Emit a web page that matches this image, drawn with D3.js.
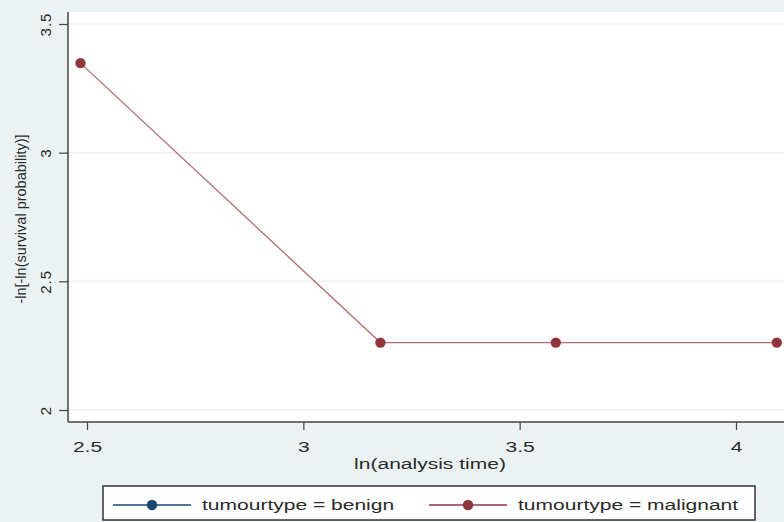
<!DOCTYPE html>
<html lang="en">
<head>
<meta charset="UTF-8">
<title>ln-ln survival plot</title>
<script src="https://cdnjs.cloudflare.com/ajax/libs/d3/7.8.5/d3.min.js"></script>
<style>
  body { margin: 0; background: #eaf2f3; }
  svg { display: block; font-family: "Liberation Sans", Arial, sans-serif; }
</style>
</head>
<body>
<div id="chart"></div>
<script>
// data: x = ln(analysis time), y = -ln(-ln S)
const timeLn = [2.4849, 3.1781, 3.5835, 4.0943];
const malignant = [3.348, 2.262, 2.262, 2.262];
const benign = []; // nothing drawn for benign
const xTicks = [2.5, 3, 3.5, 4];
const yTicks = [2, 2.5, 3, 3.5];
const seriesNames = ["tumourtype = benign", "tumourtype = malignant"];
const seriesColors = ["#1a476f", "#90353b"];

const W = 784, H = 522;
const margin = { top: 12, right: 0, bottom: 100, left: 68 };
// horizontal text in the source is drawn very wide, so widen it
const fs = 14.5, sx = 1.45;
const txtCol = "#2a2a2a";

const svg = d3.select("#chart").append("svg")
  .attr("width", W).attr("height", H);

svg.append("rect").attr("width", W).attr("height", H).attr("fill", "#eaf2f3");

// plot area
svg.append("rect")
  .attr("x", margin.left).attr("y", margin.top)
  .attr("width", W - margin.left).attr("height", H - margin.bottom - margin.top)
  .attr("fill", "#ffffff");

const x = d3.scaleLinear().domain([2.5, 4]).range([87, 736]);
const y = d3.scaleLinear().domain([2, 3.5]).range([410, 24]);

// gridlines
svg.append("g").selectAll("line").data(yTicks).join("line")
  .attr("x1", margin.left).attr("x2", W)
  .attr("y1", d => y(d)).attr("y2", d => y(d))
  .attr("stroke", "#eaf2f3").attr("stroke-width", 1.5);

// y axis
const yAxis = svg.append("g")
  .attr("transform", `translate(${margin.left},0)`)
  .call(d3.axisLeft(y).tickValues(yTicks).tickSize(9).tickFormat(d3.format("")));
yAxis.select(".domain").attr("d", `M0,${margin.top}V${H - margin.bottom}`)
  .attr("stroke", "#444").attr("stroke-width", 1.5);
yAxis.selectAll(".tick line").attr("stroke", "#444").attr("stroke-width", 1.2);
yAxis.selectAll(".tick text")
  .attr("transform", "translate(-22,0) rotate(-90)")
  .attr("x", 0).attr("y", 0).attr("dy", "0.36em")
  .attr("text-anchor", "middle").attr("letter-spacing", 1)
  .attr("font-size", 15).attr("fill", txtCol);

// x axis
const xAxis = svg.append("g")
  .attr("transform", `translate(0,${H - margin.bottom})`)
  .call(d3.axisBottom(x).tickValues(xTicks).tickSize(8).tickFormat(d3.format("")));
xAxis.select(".domain").attr("d", `M${margin.left},0H${W}`)
  .attr("stroke", "#444").attr("stroke-width", 1.5);
xAxis.selectAll(".tick line").attr("stroke", "#444").attr("stroke-width", 1.2);
xAxis.selectAll(".tick text")
  .attr("transform", `translate(0,25) scale(${sx},1)`)
  .attr("y", 0).attr("dy", "0.36em")
  .attr("font-size", fs).attr("fill", txtCol);

// axis titles
svg.append("text")
  .attr("transform", `translate(430,464) scale(${sx},1)`)
  .attr("dy", "0.36em")
  .attr("text-anchor", "middle").attr("font-size", fs).attr("fill", txtCol)
  .text("ln(analysis time)");
svg.append("text")
  .attr("transform", "translate(21,219) rotate(-90)")
  .attr("dy", "0.36em")
  .attr("text-anchor", "middle").attr("font-size", 14.5).attr("fill", txtCol)
  .text("-ln[-ln(survival probability)]");

// malignant series
const pts = timeLn.map((t, i) => ({ t, v: malignant[i] }));
const line = d3.line().x(d => x(d.t)).y(d => y(d.v));
svg.append("path").datum(pts)
  .attr("d", line).attr("fill", "none")
  .attr("stroke", "#b36a6f").attr("stroke-width", 1.3);
svg.append("g").selectAll("circle").data(pts).join("circle")
  .attr("cx", d => x(d.t)).attr("cy", d => y(d.v)).attr("r", 5.2)
  .attr("fill", seriesColors[1]);

// legend
const leg = svg.append("g");
leg.append("rect")
  .attr("x", 103).attr("y", 486).attr("width", 652).attr("height", 34)
  .attr("fill", "#fff").attr("stroke", "#333").attr("stroke-width", 1.5);
const legX = [113, 429];
seriesNames.forEach((name, i) => {
  const g = leg.append("g").attr("transform", `translate(${legX[i]},505)`);
  g.append("line").attr("x1", 0).attr("x2", 78)
    .attr("stroke", seriesColors[i]).attr("stroke-width", 1.3);
  g.append("circle").attr("cx", 39).attr("r", 5.2).attr("fill", seriesColors[i]);
  g.append("text").attr("transform", `translate(89,0) scale(${sx},1)`)
    .attr("dy", "0.36em")
    .attr("font-size", fs).attr("fill", txtCol).text(name);
});
</script>
</body>
</html>
